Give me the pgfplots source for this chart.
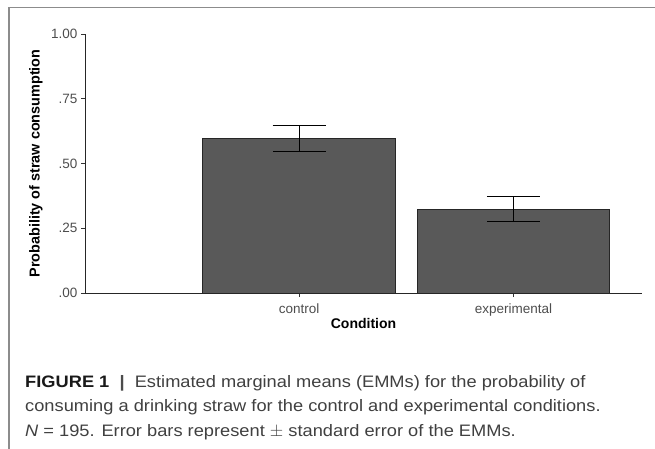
\documentclass[border=0pt]{standalone}
\usepackage{fontspec}
\setmainfont{Liberation Sans}
\newfontfamily\capfont[FakeStretch=1.1]{Liberation Sans}
\usepackage{pgfplots}
\pgfplotsset{compat=1.18}
\definecolor{barfill}{HTML}{595959}
\definecolor{ticktext}{HTML}{4D4D4D}
\definecolor{captext}{HTML}{404040}
\definecolor{framecol}{HTML}{8C8C8C}

\begin{document}
\begin{tikzpicture}
  \useasboundingbox (0pt,0pt) rectangle (655pt,-448pt);
  % outer frame (right and bottom run off the picture)
  \draw[framecol, line width=1.1pt] (9pt,-460pt) -- (9pt,-7.5pt) -- (670pt,-7.5pt);

  \begin{axis}[
    at={(85pt,-293pt)}, anchor=south west,
    scale only axis,
    width=557pt, height=259pt,
    xmin=0, xmax=2.6,
    ymin=0, ymax=1,
    enlargelimits=false,
    axis x line*=bottom, axis y line*=left,
    axis line style={-, black!85, line width=1pt},
    tick align=outside,
    major tick length=4pt,
    tick style={black!80, line width=1pt},
    xtick={1,2},
    xticklabels={control, experimental},
    ytick={0,0.25,0.5,0.75,1},
    yticklabels={.00,.25,.50,.75,1.00},
    tick label style={font=\fontsize{13.5}{15}\selectfont, text=ticktext},
    xticklabel style={anchor=base, yshift=-16pt},
    yticklabel style={anchor=east, xshift=0pt},
    xlabel={\textbf{Condition}},
    ylabel={\textbf{Probability of straw consumption}},
    every axis x label/.style={at={(axis description cs:0.5,0)}, anchor=center, yshift=-30pt,
      font=\fontsize{14}{15}\selectfont},
    every axis y label/.style={at={(axis description cs:-0.088,0.5)}, anchor=center, rotate=90,
      font=\fontsize{14.4}{15}\selectfont},
    axis on top,
  ]
    \addplot[ybar, bar width=0.9, fill=barfill, draw=black!85, line width=0.9pt,
      error bars/.cd, y dir=both, y explicit,
      error bar style={black, line width=1pt},
      error mark options={rotate=90, mark size=26.5pt, black, line width=1pt}]
      table[x=x, y=y, y error=e] {
        x  y      e
        1  0.598  0.050
        2  0.324  0.048
      };
  \end{axis}

  \begin{scope}[every node/.style={anchor=base west, inner sep=0pt, text=captext, font=\capfont\fontsize{16.6}{20}\selectfont}]
    \node at (25pt,-387pt) {{\color{black!90}\textbf{FIGURE 1}}\ \ {\color{black!70}\textbf{|}}\ \ Estimated marginal means (EMMs) for the probability of};
    \node at (25pt,-411.5pt) {consuming a drinking straw for the control and experimental conditions.};
    \node at (25pt,-436pt) {\textit{N} = 195. Error bars represent $\pm$ standard error of the EMMs.};
  \end{scope}
\end{tikzpicture}
\end{document}
